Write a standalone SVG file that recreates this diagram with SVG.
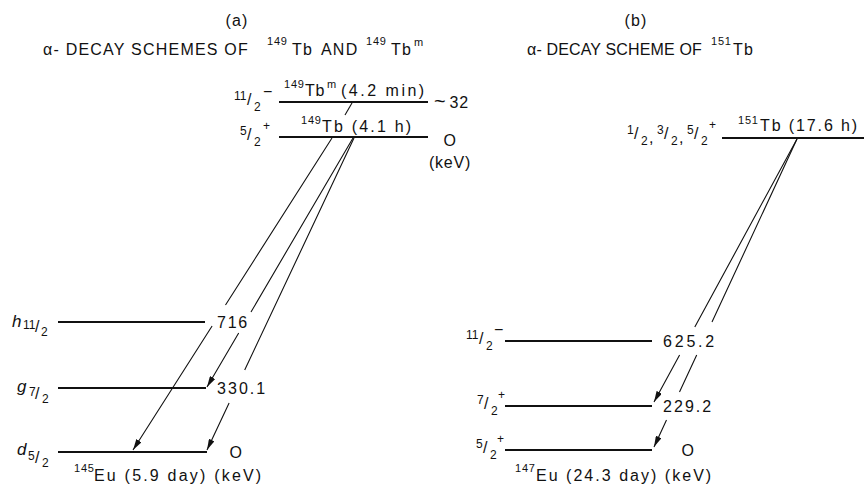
<svg xmlns="http://www.w3.org/2000/svg" width="864" height="485" viewBox="0 0 864 485">
<defs>
<style>
text{font-family:"Liberation Sans","DejaVu Sans",Arial,sans-serif;fill:#111;}
.t{font-size:16px;letter-spacing:1.2px;}
.s{font-size:11px;letter-spacing:0.8px;}
.n{font-size:16px;letter-spacing:0.8px;}
.f{font-size:12px;}
.it{font-style:italic;font-size:17px;}
.lvl{stroke:#111;stroke-width:2.2;fill:none;}
.con{stroke:#111;stroke-width:1.1;fill:none;}
</style>
<marker id="ah" viewBox="0 0 11 6" refX="11" refY="3" markerWidth="11" markerHeight="6" markerUnits="userSpaceOnUse" orient="auto">
<path d="M0,0 L11,3 L0,6 Z" fill="#111"/>
</marker>
</defs>
<rect width="864" height="485" fill="#fff"/>

<g id="title-a">
<text x="237" y="26" class="t" text-anchor="middle">(a)</text>
<text x="43" y="55" class="t" textLength="206" lengthAdjust="spacing">α- DECAY SCHEMES OF</text>
<text x="267" y="45" class="s">149</text>
<text x="292" y="55" class="t">Tb</text>
<text x="321" y="55" class="t">AND</text>
<text x="366" y="45" class="s">149</text>
<text x="391" y="55" class="t">Tb</text>
<text x="414" y="46" class="s">m</text>
</g>

<g id="title-b">
<text x="636" y="26" class="t" text-anchor="middle">(b)</text>
<text x="527" y="55" class="t" textLength="176" lengthAdjust="spacing">α- DECAY SCHEME OF</text>
<text x="711" y="45" class="s">151</text>
<text x="733" y="55" class="t">Tb</text>
</g>

<g id="connectors">
<line x1="352" y1="103" x2="345" y2="115" class="con"/>
<path class="con" d="M332,138 L225.5,305 M212.1,326 L133,450" marker-end="url(#ah)"/>
<path class="con" d="M353,138 L251,312 M238.7,333 L207,387" marker-end="url(#ah)"/>
<path class="con" d="M354,138 L244.7,370 M229.1,403 L207,450" marker-end="url(#ah)"/>
<path class="con" d="M797,139 L694.8,327 M679.6,355 L654,402" marker-end="url(#ah)"/>
<path class="con" d="M797,139 L712,322 M696.7,355 L679.5,392 M666.5,420 L654,447" marker-end="url(#ah)"/>
</g>

<g id="tbm-149">
<line x1="279" y1="102" x2="428" y2="102" class="lvl"/>
<text x="234" y="100" class="f">11</text><text x="247" y="105" class="n">/</text><text x="254" y="111" class="f">2</text><text x="263" y="97" class="n">−</text>
<text x="284" y="88" class="s">149</text>
<text x="305" y="96" class="n">Tb</text><text x="327" y="88" class="s">m</text>
<text x="341" y="96" class="n" textLength="84" lengthAdjust="spacing">(4.2 min)</text>
<text x="434" y="108" class="n"><tspan font-size="20">~</tspan><tspan dx="3">32</tspan></text>
</g>

<g id="tb-149">
<line x1="279" y1="137" x2="428" y2="137" class="lvl"/>
<text x="240" y="135" class="f">5</text><text x="247" y="140" class="n">/</text><text x="254" y="146" class="f">2</text><text x="263" y="130" class="f">+</text>
<text x="301" y="124" class="s">149</text>
<text x="322" y="132" class="n" textLength="90" lengthAdjust="spacing">Tb (4.1 h)</text>
<text x="450" y="146" class="n" text-anchor="middle">O</text>
<text x="450" y="168" class="n" text-anchor="middle">(keV)</text>
</g>

<g id="eu145-h11">
<line x1="58" y1="322" x2="205" y2="322" class="lvl"/>
<text x="12" y="327" class="it">h</text><text x="23" y="329" class="f">11</text><text x="35" y="332" class="n">/</text><text x="41" y="336" class="f">2</text>
<text x="217" y="328" class="n" textLength="31" lengthAdjust="spacing">716</text>
</g>

<g id="eu145-g7">
<line x1="58" y1="388" x2="206" y2="388" class="lvl"/>
<text x="17" y="392" class="it">g</text><text x="29" y="396" class="f">7</text><text x="35" y="399" class="n">/</text><text x="42" y="403" class="f">2</text>
<text x="217" y="394" class="n" textLength="49" lengthAdjust="spacing">330.1</text>
</g>

<g id="eu145-d5">
<line x1="58" y1="452" x2="207" y2="452" class="lvl"/>
<text x="17" y="455" class="it">d</text><text x="28" y="460" class="f">5</text><text x="35" y="463" class="n">/</text><text x="42" y="467" class="f">2</text>
<text x="236" y="458" class="n" text-anchor="middle">O</text>
<text x="74" y="472" class="s">145</text>
<text x="94" y="481" class="n" textLength="168" lengthAdjust="spacing">Eu (5.9 day)  (keV)</text>
</g>

<g id="tb-151">
<line x1="722" y1="138" x2="864" y2="138" class="lvl"/>
<text x="627" y="134" class="f">1</text><text x="634" y="139" class="n">/</text><text x="641" y="145" class="f">2</text><text x="649" y="143" class="n">,</text>
<text x="657" y="134" class="f">3</text><text x="664" y="139" class="n">/</text><text x="671" y="145" class="f">2</text><text x="679" y="143" class="n">,</text>
<text x="687" y="134" class="f">5</text><text x="694" y="139" class="n">/</text><text x="701" y="145" class="f">2</text><text x="709" y="129" class="f">+</text>
<text x="738" y="124" class="s">151</text>
<text x="760" y="131" class="n" textLength="98" lengthAdjust="spacing">Tb (17.6 h)</text>
</g>

<g id="eu147-11">
<line x1="505" y1="341" x2="652" y2="341" class="lvl"/>
<text x="466" y="339" class="f">11</text><text x="479" y="344" class="n">/</text><text x="486" y="350" class="f">2</text><text x="494" y="335" class="n">−</text>
<text x="663" y="347" class="n" textLength="52" lengthAdjust="spacing">625.2</text>
</g>

<g id="eu147-7">
<line x1="505" y1="406" x2="652" y2="406" class="lvl"/>
<text x="477" y="404" class="f">7</text><text x="484" y="409" class="n">/</text><text x="491" y="415" class="f">2</text><text x="498" y="399" class="f">+</text>
<text x="663" y="412" class="n" textLength="49" lengthAdjust="spacing">229.2</text>
</g>

<g id="eu147-5">
<line x1="505" y1="450" x2="652" y2="450" class="lvl"/>
<text x="476" y="448" class="f">5</text><text x="483" y="453" class="n">/</text><text x="490" y="459" class="f">2</text><text x="497" y="443" class="f">+</text>
<text x="688" y="456" class="n" text-anchor="middle">O</text>
<text x="515" y="472" class="s">147</text>
<text x="536" y="481" class="n" textLength="176" lengthAdjust="spacing">Eu (24.3 day)  (keV)</text>
</g>
</svg>
